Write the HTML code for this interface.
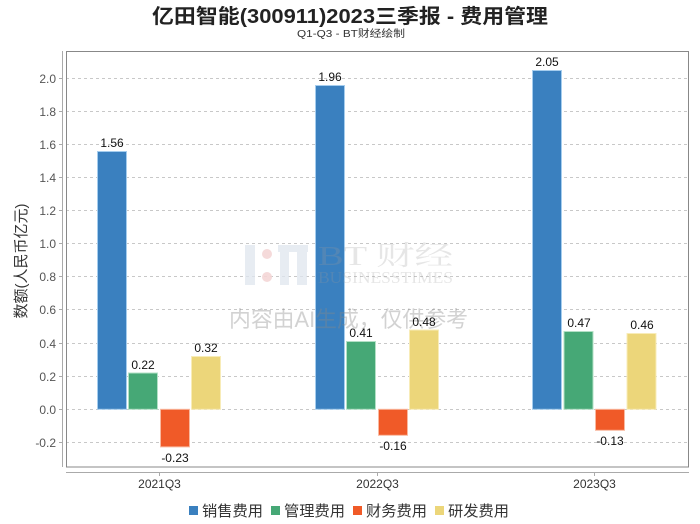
<!DOCTYPE html>
<html><head><meta charset="utf-8"><style>
html,body{margin:0;padding:0;background:#fff;}
svg{display:block;}
</style></head><body>
<svg width="700" height="524" viewBox="0 0 700 524" xmlns="http://www.w3.org/2000/svg" font-family="'Liberation Sans','Noto Sans CJK SC',sans-serif">
<rect width="700" height="524" fill="#fff"/>
<text x="152" y="23" font-size="20" font-weight="bold" fill="#222" textLength="396" lengthAdjust="spacingAndGlyphs">亿田智能(300911)2023三季报 - 费用管理</text>
<text x="297" y="37" font-size="10" fill="#333" textLength="108" lengthAdjust="spacingAndGlyphs">Q1-Q3 - BT财经绘制</text>

<!-- gridlines -->
<g stroke="#c8c8c8" stroke-width="1" stroke-dasharray="3,3">
<line x1="66" x2="689" y1="78.5" y2="78.5"/>
<line x1="66" x2="689" y1="111.5" y2="111.5"/>
<line x1="66" x2="689" y1="144.5" y2="144.5"/>
<line x1="66" x2="689" y1="177.5" y2="177.5"/>
<line x1="66" x2="689" y1="210.5" y2="210.5"/>
<line x1="66" x2="689" y1="243.5" y2="243.5"/>
<line x1="66" x2="689" y1="276.5" y2="276.5"/>
<line x1="66" x2="689" y1="309.5" y2="309.5"/>
<line x1="66" x2="689" y1="343.5" y2="343.5"/>
<line x1="66" x2="689" y1="376.5" y2="376.5"/>
<line x1="66" x2="689" y1="409.5" y2="409.5"/>
<line x1="66" x2="689" y1="442.5" y2="442.5"/>
</g>

<!-- y tick labels -->
<g font-size="12" fill="#555" text-anchor="end">
<text x="56" y="83">2.0</text>
<text x="56" y="116">1.8</text>
<text x="56" y="149">1.6</text>
<text x="56" y="182">1.4</text>
<text x="56" y="215">1.2</text>
<text x="56" y="248">1.0</text>
<text x="56" y="281">0.8</text>
<text x="56" y="314">0.6</text>
<text x="56" y="348">0.4</text>
<text x="56" y="381">0.2</text>
<text x="56" y="414">0.0</text>
<text x="56" y="447">-0.2</text>
</g>
<g stroke="#aaa" stroke-width="1">
<line x1="62.5" x2="62.5" y1="51" y2="467"/>
<line x1="59" x2="62" y1="78.5" y2="78.5"/><line x1="59" x2="62" y1="111.5" y2="111.5"/>
<line x1="59" x2="62" y1="144.5" y2="144.5"/><line x1="59" x2="62" y1="177.5" y2="177.5"/>
<line x1="59" x2="62" y1="210.5" y2="210.5"/><line x1="59" x2="62" y1="243.5" y2="243.5"/>
<line x1="59" x2="62" y1="276.5" y2="276.5"/><line x1="59" x2="62" y1="309.5" y2="309.5"/>
<line x1="59" x2="62" y1="343.5" y2="343.5"/><line x1="59" x2="62" y1="376.5" y2="376.5"/>
<line x1="59" x2="62" y1="409.5" y2="409.5"/><line x1="59" x2="62" y1="442.5" y2="442.5"/>
<line x1="66" x2="689" y1="472.5" y2="472.5"/>
<line x1="159.5" x2="159.5" y1="472" y2="476"/>
<line x1="377.5" x2="377.5" y1="472" y2="476"/>
<line x1="594.5" x2="594.5" y1="472" y2="476"/>
</g>

<text transform="translate(26,261) rotate(-90)" font-size="15" fill="#333" text-anchor="middle">数额(人民币亿元)</text>

<!-- bars -->
<g stroke-width="1">
<!-- G1 center 159 -->
<rect x="97.5" y="151.5" width="29" height="257.8" fill="#3a80bf" stroke="#a5cdee"/>
<rect x="128.5" y="373" width="29" height="36.3" fill="#46a876" stroke="#b3e0c6"/>
<rect x="160.5" y="409.3" width="29" height="37.6" fill="#f05a28" stroke="#f9b9a0"/>
<rect x="191.5" y="356.5" width="29" height="52.8" fill="#ecd67a" stroke="#f8ecb8"/>
<!-- G2 center 377 -->
<rect x="315.5" y="85.5" width="29" height="323.8" fill="#3a80bf" stroke="#a5cdee"/>
<rect x="346.5" y="341.5" width="29" height="67.8" fill="#46a876" stroke="#b3e0c6"/>
<rect x="378.5" y="409.3" width="29" height="26" fill="#f05a28" stroke="#f9b9a0"/>
<rect x="409.5" y="330" width="29" height="79.3" fill="#ecd67a" stroke="#f8ecb8"/>
<!-- G3 center 594.5 -->
<rect x="532.5" y="70.5" width="29" height="338.8" fill="#3a80bf" stroke="#a5cdee"/>
<rect x="564" y="331.5" width="29" height="77.8" fill="#46a876" stroke="#b3e0c6"/>
<rect x="595.5" y="409.3" width="29" height="21" fill="#f05a28" stroke="#f9b9a0"/>
<rect x="627" y="333.5" width="29" height="75.8" fill="#ecd67a" stroke="#f8ecb8"/>
</g>

<!-- plot border -->
<rect x="66.5" y="51.5" width="622" height="415.5" fill="none" stroke="#888" stroke-width="1"/>

<!-- watermark -->
<g opacity="0.9">
<rect x="245" y="245" width="10" height="40" fill="#dfe6ef" opacity="0.85"/>
<circle cx="267" cy="254" r="5" fill="#f5d6d6"/>
<circle cx="267" cy="277" r="5" fill="#f5d6d6"/>
<rect x="278" y="245" width="30" height="7" fill="#dfe6ef" opacity="0.85"/>
<rect x="280" y="252" width="9" height="33" fill="#dfe6ef" opacity="0.85"/>
<rect x="297" y="252" width="10" height="33" fill="#dfe6ef" opacity="0.85"/>
<text x="318" y="265" font-family="'Liberation Serif','Noto Serif CJK SC',serif" font-size="27" fill="#9a9a9a" fill-opacity="0.28" textLength="135" lengthAdjust="spacingAndGlyphs">BT 财经</text>
<text x="318" y="283" font-family="'Liberation Serif',serif" font-size="17" fill="#9a9a9a" fill-opacity="0.28" textLength="135" lengthAdjust="spacingAndGlyphs">BUSINESSTIMES</text>
<text x="229" y="327" font-size="22" fill="#888" fill-opacity="0.42" textLength="239" lengthAdjust="spacingAndGlyphs">内容由AI生成，仅供参考</text>
</g>

<!-- data labels -->
<g font-size="12" fill="#111" text-anchor="middle">
<text x="112" y="147">1.56</text>
<text x="143" y="369">0.22</text>
<text x="175" y="462">-0.23</text>
<text x="206" y="352">0.32</text>
<text x="330" y="81">1.96</text>
<text x="361" y="337">0.41</text>
<text x="393" y="450">-0.16</text>
<text x="424" y="326">0.48</text>
<text x="547" y="66">2.05</text>
<text x="579" y="327">0.47</text>
<text x="610" y="445">-0.13</text>
<text x="642" y="329">0.46</text>
</g>

<!-- category labels -->
<g font-size="12" fill="#333" text-anchor="middle">
<text x="159.5" y="488">2021Q3</text>
<text x="377.5" y="488">2022Q3</text>
<text x="594.5" y="488">2023Q3</text>
</g>

<!-- legend -->
<g font-size="15" fill="#333">
<rect x="189" y="506" width="9" height="9" fill="#3a80bf"/>
<text x="202" y="516" textLength="61" lengthAdjust="spacingAndGlyphs">销售费用</text>
<rect x="271" y="506" width="9" height="9" fill="#46a876"/>
<text x="284" y="516" textLength="61" lengthAdjust="spacingAndGlyphs">管理费用</text>
<rect x="353" y="506" width="9" height="9" fill="#f05a28"/>
<text x="366" y="516" textLength="61" lengthAdjust="spacingAndGlyphs">财务费用</text>
<rect x="435" y="506" width="9" height="9" fill="#ecd67a"/>
<text x="448" y="516" textLength="61" lengthAdjust="spacingAndGlyphs">研发费用</text>
</g>
</svg>
</body></html>
